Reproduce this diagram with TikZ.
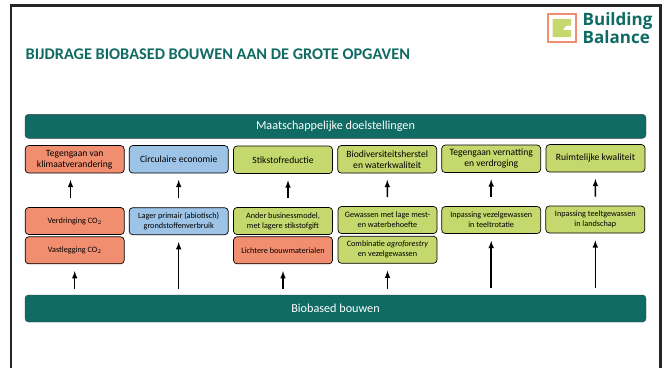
\documentclass[tikz,border=0pt]{standalone}
\usepackage{fontspec}
\setmainfont{Carlito}
\newfontfamily\logofont{Open Sans}
\definecolor{teal1}{HTML}{0F6B63}
\definecolor{salmon1}{HTML}{F28E70}
\definecolor{blauw1}{HTML}{9DC3E6}
\definecolor{groen1}{HTML}{C5D86D}
\begin{document}
\begin{tikzpicture}[x=1pt, y=-1pt,
  bar/.style={draw=black!75, fill=teal1, rounded corners=3.5pt, minimum width=621pt, minimum height=24pt, text=white, font=\fontsize{12.2}{14}\selectfont, inner sep=0pt},
  doel/.style={draw=black, line width=0.7pt, rounded corners=3.5pt, minimum width=99pt, minimum height=27.5pt, align=center, inner sep=0pt, font=\fontsize{9.6}{11}\selectfont},
  maat/.style={draw=black, line width=0.7pt, rounded corners=3.5pt, minimum width=99pt, minimum height=27pt, align=center, inner sep=0pt, font=\fontsize{8.2}{10}\selectfont},
  rood/.style={fill=salmon1},
  blauw/.style={fill=blauw1},
  groen/.style={fill=groen1},
  pijl/.style={-latex, line width=1.5pt, black}]
\useasboundingbox (0,0) rectangle (667,367);
\clip (0,0) rectangle (667,367);
\fill[white] (0,0) rectangle (667,367);
\draw[line width=2.4pt, black!85] (11.2,5.5) rectangle (660.5,380);
\node[anchor=west, text=teal1, font=\bfseries\fontsize{16.3}{18}\selectfont, inner sep=0pt] (titel) at (25.5,54) {BIJDRAGE BIOBASED BOUWEN AAN DE GROTE OPGAVEN};
% logo
\node[draw=salmon1, line width=2pt, fill=white, minimum size=28pt, inner sep=0pt] (logovak) at (562,28) {};
\fill[groen1] (552.5,19) -- (571,19) -- (571,25.5) -- (566,25.5) -- (563,30) -- (571,30) -- (571,37) -- (552.5,37) -- cycle;
\node[anchor=west, align=left, text=teal1, font=\logofont\bfseries\fontsize{17}{15.8}\selectfont, inner sep=0pt] (logotekst) at (582.5,28) {Building\\Balance};
% balken
\node[bar] (doelen) at (335.5,126.3) {Maatschappelijke doelstellingen};
\node[bar, minimum height=27pt] (basis) at (335.5,308.5) {Biobased bouwen};
% doelen
\node[doel, rood] (klimaat) at (74.7,159.3) {Tegengaan van\\klimaatverandering};
\node[doel, blauw] (circulair) at (178.7,159.3) {Circulaire economie};
\node[doel, groen] (stikstof) at (283,159.8) {Stikstofreductie};
\node[doel, groen] (biodiv) at (387.2,159.3) {Biodiversiteitsherstel\\en waterkwaliteit};
\node[doel, groen] (vernatting) at (491.2,158.8) {Tegengaan vernatting\\en verdroging};
\node[doel, groen] (ruimte) at (595.5,158.3) {Ruimtelijke kwaliteit};
% maatregelen
\node[maat, rood] (verdringing) at (74.7,221) {Verdringing CO$_2$};
\node[maat, rood] (vastlegging) at (74.7,250.3) {Vastlegging CO$_2$};
\node[maat, blauw] (lager) at (178.7,221.2) {Lager primair (abiotisch)\\grondstoffenverbruik};
\node[maat, groen] (business) at (283,221) {Ander businessmodel,\\met lagere stikstofgift};
\node[maat, rood] (lichter) at (283,250.3) {Lichtere bouwmaterialen};
\node[maat, groen] (gewassen) at (387.5,220) {Gewassen met lage mest-\\en waterbehoefte};
\node[maat, groen] (agro) at (387.5,249.8) {Combinatie \textit{agroforestry}\\en vezelgewassen};
\node[maat, groen] (rotatie) at (491.2,220) {Inpassing vezelgewassen\\in teeltrotatie};
\node[maat, groen] (landschap) at (595.3,219.5) {Inpassing teeltgewassen\\in landschap};
% pijlen boven
\draw[pijl, shorten <=9pt, shorten >=6.5pt] ([xshift=-4.2pt]verdringing.north) -- ([xshift=-4.2pt]klimaat.south);
\draw[pijl, shorten <=9pt, shorten >=6.5pt] (lager.north) -- (circulair.south);
\draw[pijl, shorten <=9pt, shorten >=6.5pt] ([xshift=5pt]business.north) -- ([xshift=5pt]stikstof.south);
\draw[pijl, shorten <=9pt, shorten >=6.5pt] (gewassen.north) -- (biodiv.south);
\draw[pijl, shorten <=9pt, shorten >=6.5pt] (rotatie.north) -- (vernatting.south);
\draw[pijl, shorten <=9pt, shorten >=6.5pt] (landschap.north) -- (ruimte.south);
% pijlen onder
\draw[pijl, shorten <=5.5pt, shorten >=7pt] (basis.north -| vastlegging) -- (vastlegging.south);
\draw[pijl, shorten <=5.5pt, shorten >=7pt] (basis.north -| lager) -- (lager.south);
\draw[pijl, shorten <=5.5pt, shorten >=7pt] (basis.north -| lichter) -- (lichter.south);
\draw[pijl, shorten <=5.5pt, shorten >=7pt] (basis.north -| agro) -- (agro.south);
\draw[pijl, shorten <=7pt, shorten >=7pt] (basis.north -| rotatie) -- (rotatie.south);
\draw[pijl, shorten <=7pt, shorten >=7pt] (basis.north -| landschap) -- (landschap.south);
\end{tikzpicture}
\end{document}
